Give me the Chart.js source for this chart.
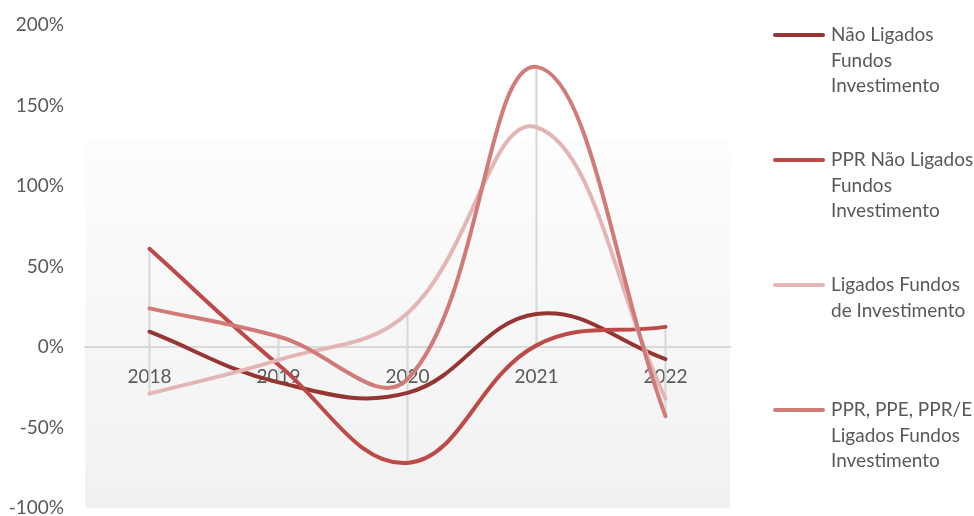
<!DOCTYPE html>
<html>
<head>
<meta charset="utf-8">
<script src="https://cdn.jsdelivr.net/npm/chart.js@4"></script>
<style>
  html, body { margin: 0; padding: 0; background: #fff; }
  #wrap { width: 974px; height: 516px; }
</style>
</head>
<body>
<div id="wrap"><canvas id="chart"></canvas></div>
<script>
// data
var years = ["2018", "2019", "2020", "2021", "2022"];
var naoLigados = [9.5, -22, -28.5, 20.5, -7.5];
var pprNaoLigados = [61, -11, -72, 1, 12.5];
var ligados = [-29, -8, 21, 136.5, -32];
var pprLigados = [24, 6.5, -20, 174, -43];
var yTicks = [-100, -50, 0, 50, 100, 150, 200];

var seriesNames = [
  ["Não Ligados", "Fundos", "Investimento"],
  ["PPR Não Ligados", "Fundos", "Investimento"],
  ["Ligados Fundos", "de Investimento"],
  ["PPR, PPE, PPR/E", "Ligados Fundos", "Investimento"]
];
var seriesColors = ["#963634", "#bd4a47", "#e3b6b5", "#d17b79"];
var allSeries = [naoLigados, pprNaoLigados, ligados, pprLigados];

// high-low lines: from the lowest to the highest value of each year
var highLow = years.map(function (y, i) {
  var vals = allSeries.map(function (s) { return s[i]; });
  return [Math.min.apply(null, vals), Math.max.apply(null, vals)];
});

var textColor = "#595959";
var font = { family: "Lato, 'Open Sans', sans-serif", size: 19 };

var lineSets = allSeries.map(function (s, i) {
  return {
    type: "line",
    label: seriesNames[i].join(" "),
    data: s,
    borderColor: seriesColors[i],
    backgroundColor: seriesColors[i],
    borderWidth: 4,
    borderCapStyle: "round",
    tension: 0.4,
    pointRadius: 0,
    fill: false,
    order: 4 - i
  };
});

// grey plot background, white at the top fading to light grey
var plotBackground = {
  id: "plotBackground",
  beforeDraw: function (chart) {
    var a = chart.chartArea, ctx = chart.ctx;
    var top = a.top + (a.bottom - a.top) * 0.24;
    var g = ctx.createLinearGradient(0, top, 0, a.bottom);
    g.addColorStop(0, "#fdfdfd");
    g.addColorStop(1, "#f1f1f1");
    ctx.save();
    ctx.fillStyle = g;
    ctx.fillRect(a.left, top, a.right - a.left, a.bottom - top);
    ctx.restore();
  }
};

// legend drawn on the right, evenly spaced like the original
var sideLegend = {
  id: "sideLegend",
  afterDraw: function (chart) {
    var ctx = chart.ctx;
    ctx.save();
    ctx.font = font.size + "px " + font.family;
    ctx.textBaseline = "middle";
    ctx.textAlign = "left";
    seriesNames.forEach(function (lines, i) {
      var y = 35 + i * 125;
      ctx.strokeStyle = seriesColors[i];
      ctx.lineWidth = 4;
      ctx.lineCap = "round";
      ctx.beginPath();
      ctx.moveTo(775, y);
      ctx.lineTo(823, y);
      ctx.stroke();
      ctx.fillStyle = textColor;
      lines.forEach(function (t, k) {
        ctx.fillText(t, 831, y + k * 25.4);
      });
    });
    ctx.restore();
  }
};

new Chart(document.getElementById("chart"), {
  type: "line",
  data: {
    labels: years,
    datasets: lineSets.concat([{
      type: "bar",
      label: "high-low",
      data: highLow,
      backgroundColor: "#d9d9d9",
      barThickness: 1.5,
      order: 10
    }])
  },
  options: {
    responsive: true,
    maintainAspectRatio: false,
    animation: false,
    layout: { padding: { top: 25, left: 4, right: 244, bottom: 8 } },
    plugins: {
      legend: { display: false },
      tooltip: { enabled: false }
    },
    scales: {
      x: {
        type: "category",
        offset: true,
        position: { y: 0 },
        afterFit: function (scale) {
          scale.height = 0;
          scale.paddingLeft = 0;
          scale.paddingRight = 0;
        },
        grid: { display: false, drawTicks: false },
        border: { display: true, color: "#d9d9d9", width: 2 },
        ticks: { color: textColor, font: font, padding: 18, maxRotation: 0 }
      },
      y: {
        min: -100,
        max: 200,
        afterBuildTicks: function (scale) {
          scale.ticks = yTicks.map(function (v) { return { value: v }; });
        },
        afterFit: function (scale) {
          scale.width = 81;
          scale.paddingTop = 0;
          scale.paddingBottom = 0;
        },
        grid: { display: false, drawTicks: false },
        border: { display: false },
        ticks: {
          color: textColor,
          font: font,
          padding: 21,
          callback: function (v) { return v + "%"; }
        }
      }
    }
  },
  plugins: [plotBackground, sideLegend]
});
</script>
</body>
</html>
